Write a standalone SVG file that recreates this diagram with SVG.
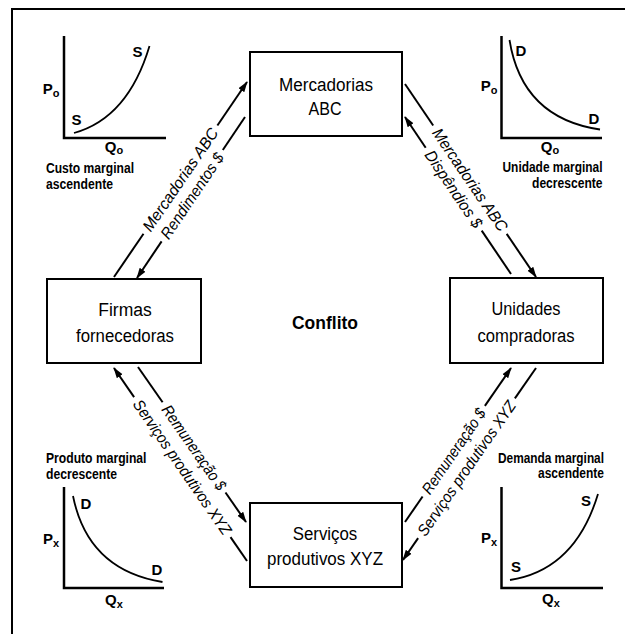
<svg xmlns="http://www.w3.org/2000/svg" width="625" height="634" viewBox="0 0 625 634">
<defs>
<marker id="ah" markerUnits="userSpaceOnUse" markerWidth="11" markerHeight="8" refX="10" refY="4" orient="auto">
<path d="M0,0.5 L11,4 L0,7.5 z" fill="#000"/>
</marker>
<style>
.box{fill:#fff;stroke:#000;stroke-width:2}
.bt{font-family:"Liberation Sans",Arial,sans-serif;font-size:18px;text-anchor:middle;fill:#000}
.ct{font-family:"Liberation Sans",Arial,sans-serif;font-size:19px;font-weight:bold;text-anchor:middle;fill:#000}
.ln{stroke:#000;stroke-width:2;fill:none}
.arr{stroke:#000;stroke-width:2;fill:none;marker-end:url(#ah)}
.dt{font-family:"Liberation Sans",Arial,sans-serif;font-size:16px;font-style:italic;text-anchor:middle;dominant-baseline:central;fill:#000}
.ax{stroke:#000;stroke-width:2.5;fill:none}
.cv{stroke:#000;stroke-width:1.8;fill:none}
.sl{font-family:"Liberation Sans",Arial,sans-serif;font-size:14px;font-weight:bold;fill:#000}
.cl{font-family:"Liberation Sans",Arial,sans-serif;font-size:15px;font-weight:bold;text-anchor:middle;fill:#000}
.frame{stroke:#000;stroke-width:2;fill:none}
</style>
</defs>
<rect width="625" height="634" fill="#fff"/>
<path class="frame" d="M12,634 L12,9 L625,9"/>

<g id="chart-tl">
<path class="ax" d="M64,36 L64,138 L166,138"/>
<path class="cv" d="M74,133 Q128,118 149.5,46"/>
<text class="cl" x="137.5" y="57">S</text>
<text class="cl" x="76.5" y="125">S</text>
<text class="cl" x="51" y="94">P<tspan font-size="11" dy="3">o</tspan></text>
<text class="cl" x="114" y="152">Q<tspan font-size="11" dy="2">o</tspan></text>
<text class="sl" x="46" y="173" textLength="88" lengthAdjust="spacingAndGlyphs">Custo marginal</text>
<text class="sl" x="46" y="189" textLength="67" lengthAdjust="spacingAndGlyphs">ascendente</text>
</g>

<g id="chart-tr">
<path class="ax" d="M501.5,36 L501.5,138 L602,138"/>
<path class="cv" d="M509.5,40 Q522,118 600,129.5"/>
<text class="cl" x="521" y="56">D</text>
<text class="cl" x="594" y="124">D</text>
<text class="cl" x="489" y="91">P<tspan font-size="11" dy="3">o</tspan></text>
<text class="cl" x="550" y="152">Q<tspan font-size="11" dy="2">o</tspan></text>
<text class="sl" x="602.5" y="172" text-anchor="end" textLength="100" lengthAdjust="spacingAndGlyphs">Unidade marginal</text>
<text class="sl" x="602.5" y="188" text-anchor="end" textLength="70.5" lengthAdjust="spacingAndGlyphs">decrescente</text>
</g>

<g id="chart-bl">
<path class="ax" d="M64,487 L64,588 L164,588"/>
<path class="cv" d="M73,496 Q88,570 162.5,582"/>
<text class="cl" x="86" y="509">D</text>
<text class="cl" x="157" y="575">D</text>
<text class="cl" x="51" y="544">P<tspan font-size="11" dy="3">x</tspan></text>
<text class="cl" x="114" y="605">Q<tspan font-size="11" dy="3">x</tspan></text>
<text class="sl" x="46" y="463" textLength="100.5" lengthAdjust="spacingAndGlyphs">Produto marginal</text>
<text class="sl" x="46" y="479" textLength="71" lengthAdjust="spacingAndGlyphs">decrescente</text>
</g>

<g id="chart-br">
<path class="ax" d="M501.5,487 L501.5,588 L603,588"/>
<path class="cv" d="M510,580 Q575,570 598,494"/>
<text class="cl" x="586" y="506">S</text>
<text class="cl" x="516" y="572">S</text>
<text class="cl" x="489" y="543">P<tspan font-size="11" dy="3">x</tspan></text>
<text class="cl" x="551" y="604">Q<tspan font-size="11" dy="3">x</tspan></text>
<text class="sl" x="604" y="463" text-anchor="end" textLength="106" lengthAdjust="spacingAndGlyphs">Demanda marginal</text>
<text class="sl" x="604" y="478" text-anchor="end" textLength="66" lengthAdjust="spacingAndGlyphs">ascendente</text>
</g>

<g id="connectors">
<line class="ln" x1="114" y1="277" x2="143.5" y2="233.7"/>
<line class="arr" x1="217.4" y1="125.5" x2="247" y2="82"/>
<line class="ln" x1="245" y1="117" x2="222.8" y2="150"/>
<line class="arr" x1="161.6" y1="241.4" x2="137" y2="278"/>
<line class="ln" x1="405" y1="84" x2="433.2" y2="125.5"/>
<line class="arr" x1="506.7" y1="233.9" x2="536" y2="277"/>
<line class="ln" x1="511" y1="274" x2="481.7" y2="230.6"/>
<line class="arr" x1="425.7" y1="147.7" x2="405" y2="117"/>
<line class="ln" x1="138" y1="367" x2="162.6" y2="402.3"/>
<line class="arr" x1="225.5" y1="492.5" x2="246" y2="522"/>
<line class="ln" x1="247" y1="561" x2="230.5" y2="537.1"/>
<line class="arr" x1="134.1" y1="397.1" x2="114" y2="368"/>
<line class="ln" x1="405" y1="522" x2="422.6" y2="496.5"/>
<line class="arr" x1="484.9" y1="405.9" x2="511" y2="368"/>
<line class="ln" x1="536" y1="368" x2="514.9" y2="398.4"/>
<line class="arr" x1="418.1" y1="538.1" x2="403" y2="560"/>

<text class="dt" x="180.4" y="179.6" transform="rotate(-55.7 180.4 179.6)" textLength="121" lengthAdjust="spacingAndGlyphs">Mercadorias ABC</text>
<text class="dt" x="192.2" y="195.7" transform="rotate(-56.1 192.2 195.7)" textLength="100" lengthAdjust="spacingAndGlyphs">Rendimentos $</text>
<text class="dt" x="470" y="179.7" transform="rotate(55.8 470 179.7)" textLength="121" lengthAdjust="spacingAndGlyphs">Mercadorias ABC</text>
<text class="dt" x="453.7" y="189.1" transform="rotate(56 453.7 189.1)" textLength="90" lengthAdjust="spacingAndGlyphs">Dispêndios $</text>
<text class="dt" x="194.1" y="447.6" transform="rotate(55.1 194.1 447.6)" textLength="100" lengthAdjust="spacingAndGlyphs">Remuneração $</text>
<text class="dt" x="182.3" y="467.1" transform="rotate(55.4 182.3 467.1)" textLength="160" lengthAdjust="spacingAndGlyphs">Serviços produtivos XYZ</text>
<text class="dt" x="453.7" y="451.2" transform="rotate(-55.5 453.7 451.2)" textLength="100" lengthAdjust="spacingAndGlyphs">Remuneração $</text>
<text class="dt" x="466.5" y="468.3" transform="rotate(-55.3 466.5 468.3)" textLength="160" lengthAdjust="spacingAndGlyphs">Serviços produtivos XYZ</text>
</g>

<g id="node-mercadorias">
<rect class="box" x="250" y="52" width="152" height="84"/>
<text class="bt" x="326" y="91" textLength="94" lengthAdjust="spacingAndGlyphs">Mercadorias</text>
<text class="bt" x="325" y="115" textLength="33" lengthAdjust="spacingAndGlyphs">ABC</text>
</g>
<g id="node-firmas">
<rect class="box" x="47" y="279" width="154" height="84"/>
<text class="bt" x="125" y="316" textLength="53.5" lengthAdjust="spacingAndGlyphs">Firmas</text>
<text class="bt" x="125" y="342" textLength="98" lengthAdjust="spacingAndGlyphs">fornecedoras</text>
</g>
<g id="node-unidades">
<rect class="box" x="450" y="278" width="153" height="85"/>
<text class="bt" x="526" y="315" textLength="69" lengthAdjust="spacingAndGlyphs">Unidades</text>
<text class="bt" x="526" y="342" textLength="97" lengthAdjust="spacingAndGlyphs">compradoras</text>
</g>
<g id="node-servicos">
<rect class="box" x="250" y="503" width="152" height="84"/>
<text class="bt" x="325" y="540" textLength="64.5" lengthAdjust="spacingAndGlyphs">Serviços</text>
<text class="bt" x="325" y="565" textLength="116" lengthAdjust="spacingAndGlyphs">produtivos XYZ</text>
</g>
<g id="conflito">
<text class="ct" x="325" y="329" textLength="66" lengthAdjust="spacingAndGlyphs">Conflito</text>
</g>
</svg>
